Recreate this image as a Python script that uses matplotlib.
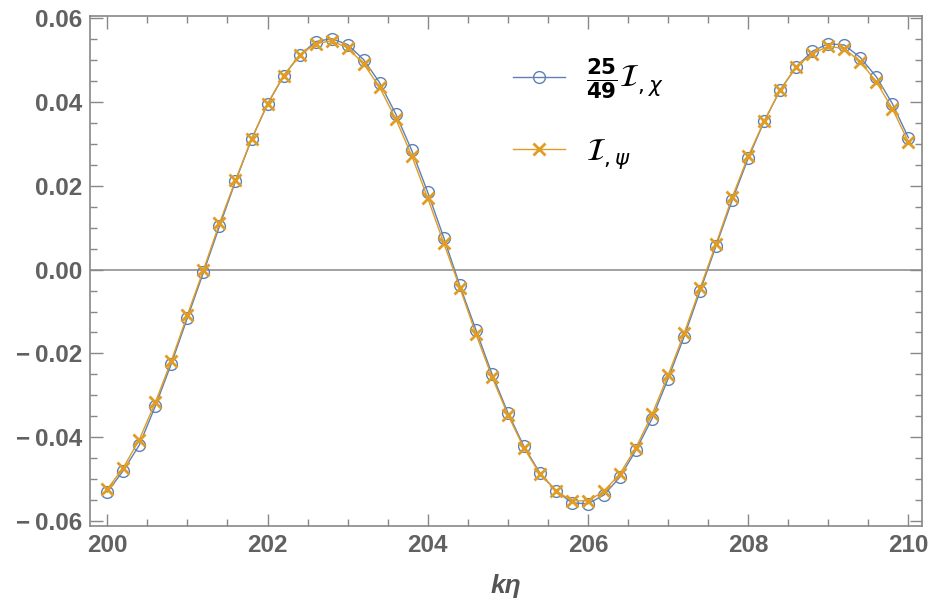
import matplotlib
matplotlib.use("Agg")
import matplotlib.pyplot as plt
import numpy as np
from matplotlib.ticker import MultipleLocator, FuncFormatter

plt.rcParams['font.family'] = ['Liberation Sans', 'DejaVu Sans']
plt.rcParams['mathtext.fontset'] = 'dejavusans'

# k*eta sample points
k_eta = [200.0, 200.2, 200.4, 200.6, 200.8, 201.0, 201.2, 201.4, 201.6, 201.8,
         202.0, 202.2, 202.4, 202.6, 202.8, 203.0, 203.2, 203.4, 203.6, 203.8,
         204.0, 204.2, 204.4, 204.6, 204.8, 205.0, 205.2, 205.4, 205.6, 205.8,
         206.0, 206.2, 206.4, 206.6, 206.8, 207.0, 207.2, 207.4, 207.6, 207.8,
         208.0, 208.2, 208.4, 208.6, 208.8, 209.0, 209.2, 209.4, 209.6, 209.8,
         210.0]

# (25/49) I_chi  (blue circles)
i_chi = [-0.0530, -0.0479, -0.0418, -0.0325, -0.0224, -0.0115, -0.0007, 0.0103, 0.0210, 0.0310,
         0.0394, 0.0461, 0.0510, 0.0543, 0.0550, 0.0536, 0.0500, 0.0445, 0.0371, 0.0284,
         0.0184, 0.0076, -0.0038, -0.0143, -0.0248, -0.0341, -0.0421, -0.0485, -0.0527, -0.0556,
         -0.0558, -0.0537, -0.0494, -0.0430, -0.0355, -0.0260, -0.0160, -0.0051, 0.0057, 0.0165,
         0.0265, 0.0353, 0.0428, 0.0483, 0.0520, 0.0538, 0.0535, 0.0505, 0.0459, 0.0395,
         0.0314]

# I_psi (orange crosses)
i_psi = [-0.0523, -0.0472, -0.0405, -0.0316, -0.0217, -0.0108, -0.0001, 0.0110, 0.0213, 0.0311,
         0.0395, 0.0462, 0.0511, 0.0538, 0.0545, 0.0528, 0.0490, 0.0434, 0.0359, 0.0271,
         0.0170, 0.0063, -0.0043, -0.0153, -0.0255, -0.0346, -0.0425, -0.0487, -0.0527, -0.0551,
         -0.0551, -0.0528, -0.0486, -0.0424, -0.0345, -0.0252, -0.0152, -0.0044, 0.0062, 0.0172,
         0.0270, 0.0354, 0.0428, 0.0483, 0.0514, 0.0532, 0.0526, 0.0495, 0.0447, 0.0383,
         0.0304]

blue = '#5E81B5'
orange = '#E19C24'
grey = '#888888'
label_grey = '#616161'

fig = plt.figure(figsize=(9.29, 6.06), dpi=100)
ax = fig.add_axes([0.0974, 0.132, 0.8951, 0.8416])

ax.axhline(0, color='#9a9a9a', lw=1.3, zorder=1)

ax.plot(k_eta, i_chi, color=blue, lw=1.0, marker='o', ms=8.5, mfc='none',
        mec=blue, mew=1.0, label=r'$\frac{\mathbf{25}}{\mathbf{49}}\mathcal{I}_{,\chi}$', zorder=3)
ax.plot(k_eta, i_psi, color=orange, lw=1.0, marker='x', ms=8.5, mew=2.0,
        label=r'$\mathcal{I}_{,\psi}$', zorder=4)

ax.set_xlim(199.79, 210.17)
ax.set_ylim(-0.0611, 0.0604)

ax.xaxis.set_major_locator(MultipleLocator(2))
ax.xaxis.set_minor_locator(MultipleLocator(0.5))
ax.yaxis.set_major_locator(MultipleLocator(0.02))
ax.yaxis.set_minor_locator(MultipleLocator(0.005))

def yfmt(v, pos):
    if abs(v) < 1e-9:
        return '0.00'
    s = '%.2f' % abs(v)
    return ('\u2212\u2009' + s) if v < 0 else s

ax.yaxis.set_major_formatter(FuncFormatter(yfmt))
ax.xaxis.set_major_formatter(FuncFormatter(lambda v, p: '%d' % round(v)))

ax.tick_params(which='both', direction='in', top=True, right=True, color=grey, width=1.0)
ax.tick_params(which='major', length=9)
ax.tick_params(which='minor', length=5)
ax.tick_params(axis='both', which='major', labelsize=17.5, labelcolor=label_grey, pad=6)
for lab in ax.get_xticklabels() + ax.get_yticklabels():
    lab.set_fontweight('bold')

for sp in ax.spines.values():
    sp.set_color(grey)
    sp.set_linewidth(1.2)

ax.set_xlabel('k\u03b7', fontsize=19, fontweight='bold', fontstyle='italic',
              color='#555555', labelpad=12)

leg = ax.legend(loc='upper left', bbox_to_anchor=(0.475, 0.975), frameon=False,
                fontsize=22, handlelength=1.7, handletextpad=0.7, labelspacing=1.15)

fig.savefig('out.png', dpi=100)
